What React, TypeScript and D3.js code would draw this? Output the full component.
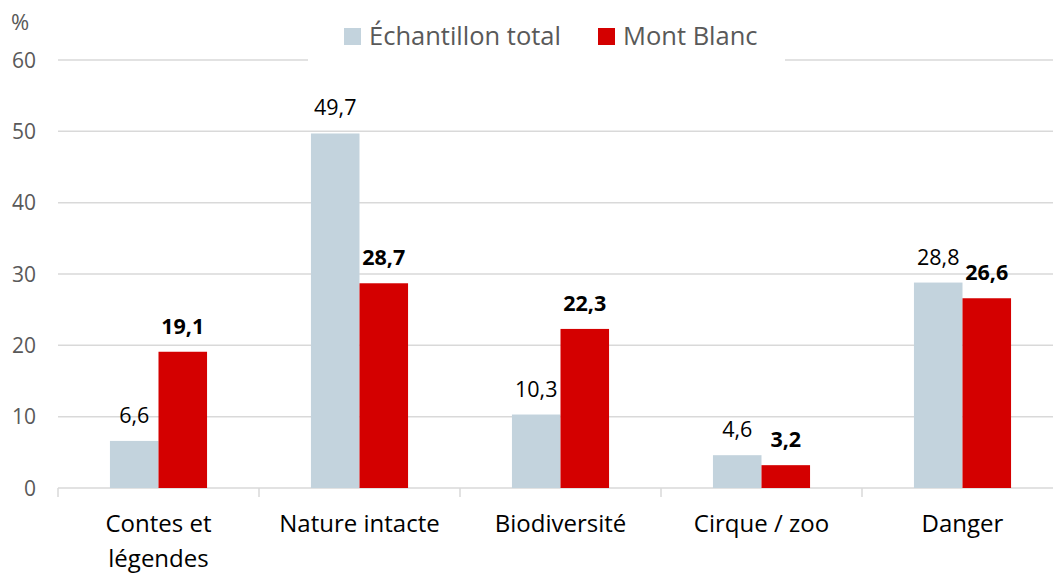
import React from "react";
import * as d3 from "d3";

const categories: string[][] = [
  ["Contes et", "légendes"],
  ["Nature intacte"],
  ["Biodiversité"],
  ["Cirque / zoo"],
  ["Danger"],
];
const seriesNames = ["Échantillon total", "Mont Blanc"];
const totalValues = [6.6, 49.7, 10.3, 4.6, 28.8];
const montBlancValues = [19.1, 28.7, 22.3, 3.2, 26.6];
const yTicks = [0, 10, 20, 30, 40, 50, 60];

const W = 1053;
const H = 573;
const colors = ["#C3D3DD", "#D40000"];
const font = "'Open Sans', 'Noto Sans', sans-serif";

export default function App() {
  const x0 = d3
    .scaleBand<number>()
    .domain(categories.map((_, i) => i))
    .range([58, 1063])
    .paddingInner(0)
    .paddingOuter(0);
  const x1 = d3
    .scaleBand<number>()
    .domain([0, 1])
    .range([0, x0.bandwidth()])
    .paddingOuter(1.07)
    .paddingInner(0);
  const y = d3.scaleLinear().domain([0, 60]).range([488, 60]);
  const series = [totalValues, montBlancValues];
  const fmt = (v: number) => v.toFixed(1).replace(".", ",");

  return (
    <svg
      width={W}
      height={H}
      style={{ position: "absolute", left: 0, top: 0, background: "#fff" }}
      fontFamily={font}
    >
      {yTicks.map((t) => (
        <g key={t}>
          {t > 0 && (
            <line x1={58} x2={W} y1={y(t)} y2={y(t)} stroke="#D9D9D9" strokeWidth={1.5} />
          )}
          <text
            x={36}
            y={y(t)}
            dy="0.36em"
            textAnchor="end"
            fontSize={21}
            fill="#595959"
          >
            {t}
          </text>
        </g>
      ))}
      <text x={11} y={30} fontSize={22} fill="#595959">
        %
      </text>
      {/* x axis */}
      <line x1={58} x2={W} y1={488} y2={488} stroke="#D9D9D9" strokeWidth={1.5} />
      {categories.map((_, i) => (
        <line
          key={i}
          x1={x0(i)!}
          x2={x0(i)!}
          y1={488}
          y2={497}
          stroke="#D9D9D9"
          strokeWidth={1.5}
        />
      ))}
      {/* bars */}
      {categories.map((_, i) => (
        <g key={i} transform={`translate(${x0(i)},0)`}>
          {series.map((vals, s) => (
            <g key={s}>
              <rect
                x={x1(s)!}
                y={y(vals[i])}
                width={x1.bandwidth()}
                height={488 - y(vals[i])}
                fill={colors[s]}
              />
              <text
                x={x1(s)! + x1.bandwidth() / 2}
                y={y(vals[i]) - 18}
                textAnchor="middle"
                fontSize={21.5}
                fontWeight={s === 1 ? 700 : 400}
                fill="#000"
              >
                {fmt(vals[i])}
              </text>
            </g>
          ))}
          {categories[i].map((line, k) => (
            <text
              key={k}
              x={x0.bandwidth() / 2}
              y={532 + k * 35}
              textAnchor="middle"
              fontSize={24}
              fill="#000"
            >
              {line}
            </text>
          ))}
        </g>
      ))}
      {/* legend */}
      <rect x={308} y={18} width={477} height={50} fill="#fff" />
      <rect x={344} y={28} width={17} height={17} fill={colors[0]} />
      <text x={369} y={45} fontSize={25.5} fill="#595959">
        {seriesNames[0]}
      </text>
      <rect x={598} y={28} width={17} height={17} fill={colors[1]} />
      <text x={623} y={45} fontSize={25.5} fill="#595959">
        {seriesNames[1]}
      </text>
    </svg>
  );
}
